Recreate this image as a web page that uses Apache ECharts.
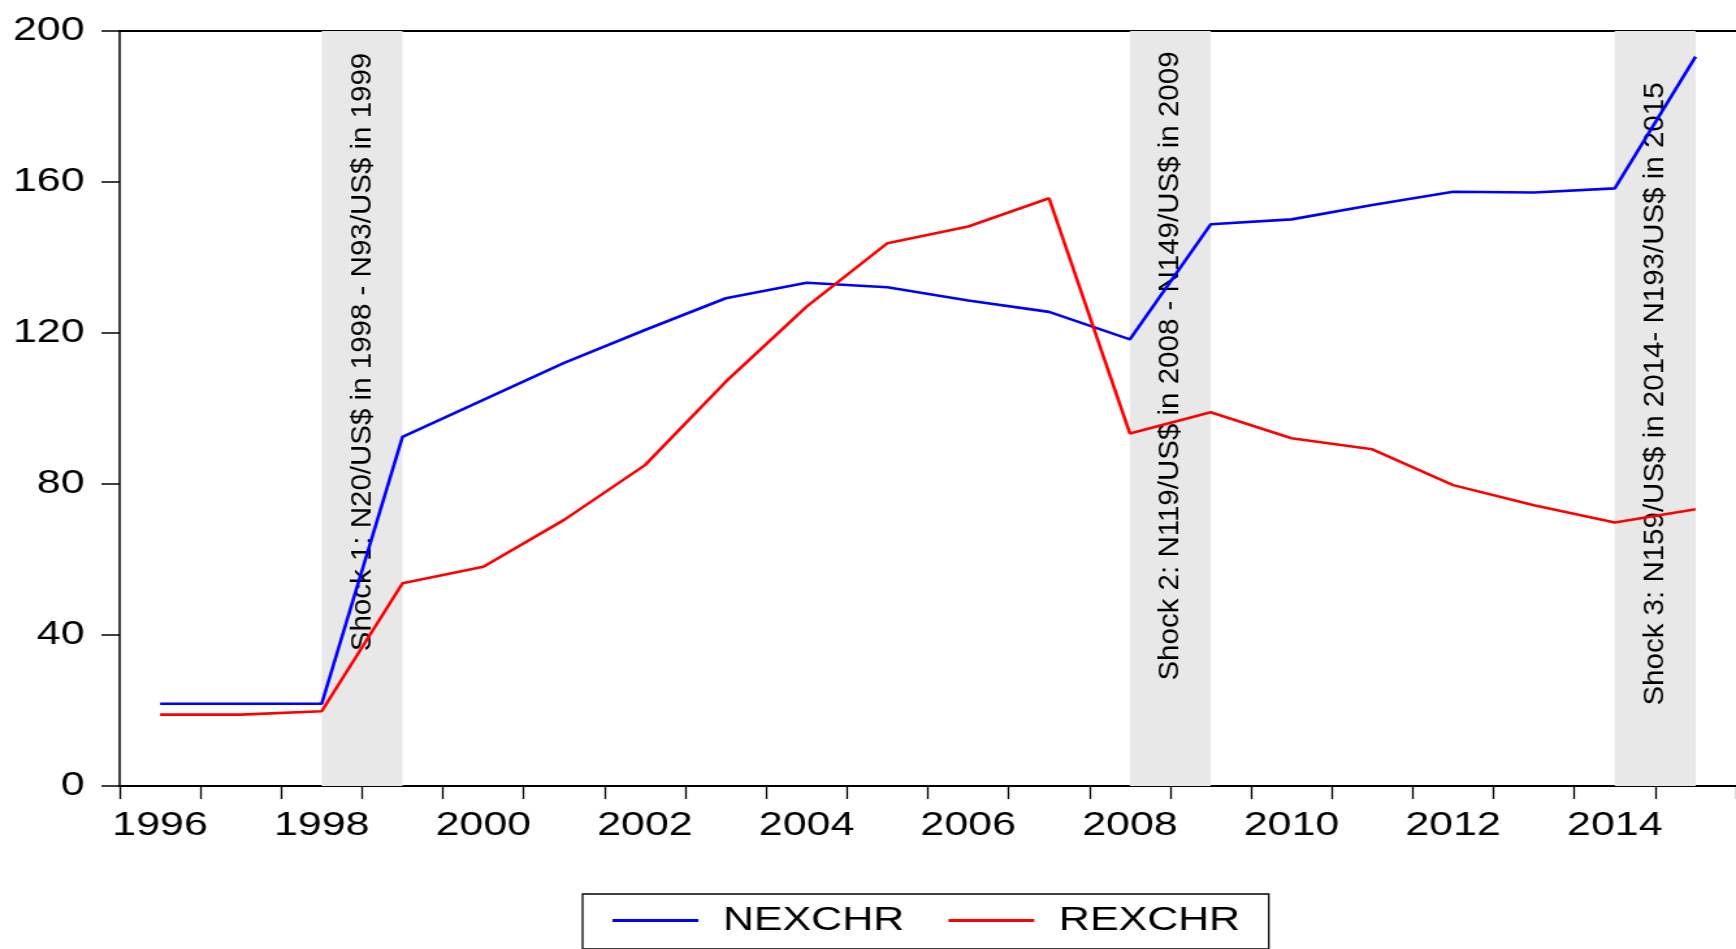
<!DOCTYPE html>
<html>
<head>
<meta charset="utf-8">
<script src="https://cdn.jsdelivr.net/npm/echarts@6.0.0/dist/echarts.min.js"></script>
<style>
html,body{margin:0;padding:0;background:#fff;overflow:hidden;width:1736px;height:949px;}
#chart{width:1335px;height:949px;transform:scaleX(1.30037);transform-origin:0 0;}
</style>
</head>
<body>
<div id="chart"></div>
<script>
// ---- data ----
const years = ['1996','1997','1998','1999','2000','2001','2002','2003','2004','2005',
               '2006','2007','2008','2009','2010','2011','2012','2013','2014','2015'];
const nexchr = [21.8, 21.8, 21.8, 92.5, 102.3, 112.1, 120.8, 129.2, 133.3, 132.1,
                128.6, 125.6, 118.3, 148.8, 150.1, 153.9, 157.4, 157.2, 158.3, 193.2];
const rexchr = [18.9, 18.9, 19.8, 53.7, 58.1, 70.5, 85.0, 107.1, 127.0, 143.8,
                148.2, 155.7, 93.4, 99.0, 92.1, 89.2, 79.7, 74.4, 69.8, 73.3];
const shockStart = ['1998', '2008', '2014'];
const shockEnd   = ['1999', '2009', '2015'];
const shockText  = [
  'Shock 1: N20/US$ in 1998 - N93/US$ in 1999',
  'Shock 2: N119/US$ in 2008 - N149/US$ in 2009',
  'Shock 3: N159/US$ in 2014- N193/US$ in 2015'
];
const seriesNames = ['NEXCHR', 'REXCHR'];

// ---- layout ----
const S = 1736 / 1335;              // horizontal stretch of the container
const FONT = "'Liberation Sans', Arial, sans-serif";
const shockTextY = [352, 366, 394]; // pixel centres of rotated annotations

const chart = echarts.init(document.getElementById('chart'), null, {renderer: 'canvas'});

const option = {
  animation: false,
  backgroundColor: '#ffffff',
  grid: {left: 92, right: 0, top: 31, bottom: 163},
  legend: {
    data: seriesNames,
    left: 448,
    top: 894,
    orient: 'horizontal',
    icon: 'rect',
    itemWidth: 66,
    itemHeight: 3,
    itemGap: 34,
    padding: [10, 22, 12, 23],
    borderColor: '#000',
    borderWidth: 1.3,
    textStyle: {fontSize: 33, fontFamily: FONT, color: '#000', padding: [0, 0, 0, 14]}
  },
  xAxis: [{
    type: 'category',
    data: years,
    boundaryGap: true,
    axisLine: {show: true, lineStyle: {color: '#000', width: 2}},
    axisTick: {show: true, interval: 0, length: 13, inside: false, lineStyle: {color: '#000', width: 1.3}},
    axisLabel: {interval: 1, fontSize: 33, fontFamily: FONT, color: '#000', margin: 23},
    splitLine: {show: false}
  }, {
    type: 'category',
    data: years,
    position: 'top',
    boundaryGap: true,
    axisLine: {show: true, lineStyle: {color: '#000', width: 2}},
    axisTick: {show: false},
    axisLabel: {show: false},
    splitLine: {show: false}
  }],
  yAxis: {
    type: 'value',
    min: 0, max: 200, interval: 40,
    axisLine: {show: true, lineStyle: {color: '#000', width: 1.5}},
    axisTick: {show: true, length: 14, lineStyle: {color: '#000', width: 1.5}},
    axisLabel: {fontSize: 33, fontFamily: FONT, color: '#000', margin: 27, padding: [0, 0, 8, 0]},
    splitLine: {show: false}
  },
  series: [
    {
      name: 'bands',
      type: 'line',
      data: [],
      z: 1,
      silent: true,
      markArea: {
        silent: true,
        itemStyle: {color: '#E8E8E8'},
        data: shockStart.map((s, i) => [{xAxis: s}, {xAxis: shockEnd[i]}])
      }
    },
    {
      name: seriesNames[0],
      type: 'line',
      data: nexchr,
      symbol: 'none',
      z: 3,
      lineStyle: {color: '#0000FF', width: 2.6},
      itemStyle: {color: '#0000FF'}
    },
    {
      name: seriesNames[1],
      type: 'line',
      data: rexchr,
      symbol: 'none',
      z: 3,
      lineStyle: {color: '#FF0000', width: 2.6},
      itemStyle: {color: '#FF0000'}
    }
  ]
};
chart.setOption(option);

// rotated shock annotations, placed at band centres via the axis scale
const graphics = shockText.map((t, i) => {
  const a = chart.convertToPixel({xAxisIndex: 0}, shockStart[i]);
  const b = chart.convertToPixel({xAxisIndex: 0}, shockEnd[i]);
  return {
    type: 'text',
    x: (a + b) / 2,
    y: shockTextY[i],
    rotation: Math.PI / 2,
    scaleX: 1,
    scaleY: 1 / S,
    z: 2,
    silent: true,
    style: {
      text: t,
      fontSize: 29.5,
      fontFamily: FONT,
      fill: '#000',
      align: 'center',
      verticalAlign: 'middle'
    }
  };
});
chart.setOption({graphic: graphics});
</script>
</body>
</html>
